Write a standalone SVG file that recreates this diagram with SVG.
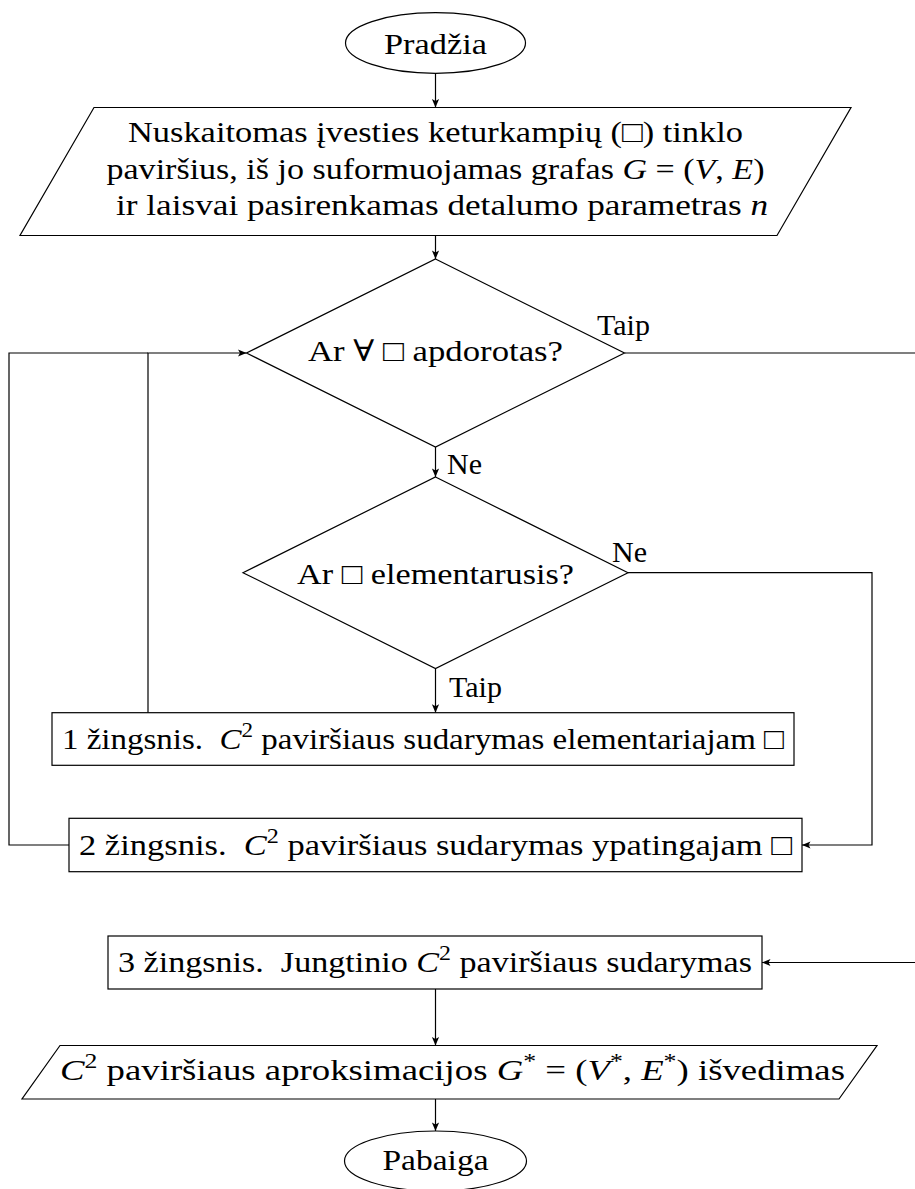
<svg xmlns="http://www.w3.org/2000/svg" width="915" height="1189" viewBox="0 0 915 1189">
<style>
.s{fill:#fff;stroke:#000;stroke-width:1.2}
.c{fill:none;stroke:#000;stroke-width:1.2}
text{font-family:'Liberation Serif','Times New Roman','DejaVu Serif',serif;font-size:30px;fill:#000}
.i{font-style:italic}
.sup{font-size:21px}
</style>
<defs>
<marker id="ah" viewBox="-10 -5 12 10" refX="0" refY="0" markerWidth="12" markerHeight="10" markerUnits="userSpaceOnUse" orient="auto">
<path d="M0,0 L-8.5,-3.6 L-6.5,0 L-8.5,3.6 Z" fill="#000"/>
</marker>
</defs>
<rect width="915" height="1189" fill="#fff"/>
<g id="connectors">
<path class="c" d="M435.5,73 V107.5" marker-end="url(#ah)"/>
<path class="c" d="M435.5,235.5 V259" marker-end="url(#ah)"/>
<path class="c" d="M435.5,447 V477" marker-end="url(#ah)"/>
<path class="c" d="M624.5,353 H930 V962.5 H762" marker-end="url(#ah)"/>
<path class="c" d="M628,572.7 H872 V845 H802" marker-end="url(#ah)"/>
<path class="c" d="M435.5,668.5 V712.7" marker-end="url(#ah)"/>
<path class="c" d="M69,845 H9 V353 H148"/>
<path class="c" d="M148,712.7 V353 H246.5" marker-end="url(#ah)"/>
<path class="c" d="M435.5,989 V1045.5" marker-end="url(#ah)"/>
<path class="c" d="M435.5,1099 V1131" marker-end="url(#ah)"/>
<text x="597" y="335">Taip</text>
<text x="447" y="474">Ne</text>
<text x="612" y="562">Ne</text>
<text x="449" y="697">Taip</text>
</g>
<g id="start">
<ellipse class="s" cx="435.5" cy="43" rx="90" ry="30.3"/>
<text x="384" y="54" textLength="103" lengthAdjust="spacingAndGlyphs">Pradžia</text>
</g>
<g id="input">
<polygon class="s" points="94,107.5 851,107.5 777,235.5 20,235.5"/>
<text x="128" y="142" textLength="615" lengthAdjust="spacingAndGlyphs">Nuskaitomas įvesties keturkampių (□) tinklo</text>
<text x="106.5" y="178.5" textLength="658" lengthAdjust="spacingAndGlyphs">paviršius, iš jo suformuojamas grafas <tspan class="i">G</tspan> = (<tspan class="i">V</tspan>, <tspan class="i">E</tspan>)</text>
<text x="116" y="215" textLength="652" lengthAdjust="spacingAndGlyphs">ir laisvai pasirenkamas detalumo parametras <tspan class="i">n</tspan></text>
</g>
<g id="decision1">
<polygon class="s" points="435.5,259 624.5,353 435.5,447 246.5,353"/>
<text x="308" y="360.5" textLength="255" lengthAdjust="spacingAndGlyphs">Ar ∀ □ apdorotas?</text>
</g>
<g id="decision2">
<polygon class="s" points="435.5,477 628,572.7 435.5,668.5 243,572.7"/>
<text x="297" y="583.5" textLength="277" lengthAdjust="spacingAndGlyphs">Ar □ elementarusis?</text>
</g>
<g id="step1">
<rect class="s" x="52" y="712.7" width="742" height="52.6"/>
<text x="62" y="748.5" textLength="722" lengthAdjust="spacingAndGlyphs">1 žingsnis.&#160; <tspan class="i">C</tspan><tspan class="sup" dy="-12">2</tspan><tspan dy="12"> paviršiaus sudarymas elementariajam □</tspan></text>
</g>
<g id="step2">
<rect class="s" x="69" y="818.3" width="733" height="53.4"/>
<text x="79" y="854.5" textLength="713" lengthAdjust="spacingAndGlyphs">2 žingsnis.&#160; <tspan class="i">C</tspan><tspan class="sup" dy="-12">2</tspan><tspan dy="12"> paviršiaus sudarymas ypatingajam □</tspan></text>
</g>
<g id="step3">
<rect class="s" x="108" y="936" width="654" height="53"/>
<text x="118" y="972" textLength="634" lengthAdjust="spacingAndGlyphs">3 žingsnis.&#160; Jungtinio <tspan class="i">C</tspan><tspan class="sup" dy="-12">2</tspan><tspan dy="12"> paviršiaus sudarymas</tspan></text>
</g>
<g id="output">
<polygon class="s" points="60,1045.5 877,1045.5 839,1099 22,1099"/>
<text x="60" y="1080" textLength="785" lengthAdjust="spacingAndGlyphs"><tspan class="i">C</tspan><tspan class="sup" dy="-12">2</tspan><tspan dy="12"> paviršiaus aproksimacijos </tspan><tspan class="i">G</tspan><tspan class="sup" dy="-12">*</tspan><tspan dy="12"> = (</tspan><tspan class="i">V</tspan><tspan class="sup" dy="-12">*</tspan><tspan dy="12">, </tspan><tspan class="i">E</tspan><tspan class="sup" dy="-12">*</tspan><tspan dy="12">) išvedimas</tspan></text>
</g>
<g id="end">
<ellipse class="s" cx="435.5" cy="1161" rx="91" ry="30"/>
<text x="382.5" y="1170" textLength="106" lengthAdjust="spacingAndGlyphs">Pabaiga</text>
</g>
</svg>
